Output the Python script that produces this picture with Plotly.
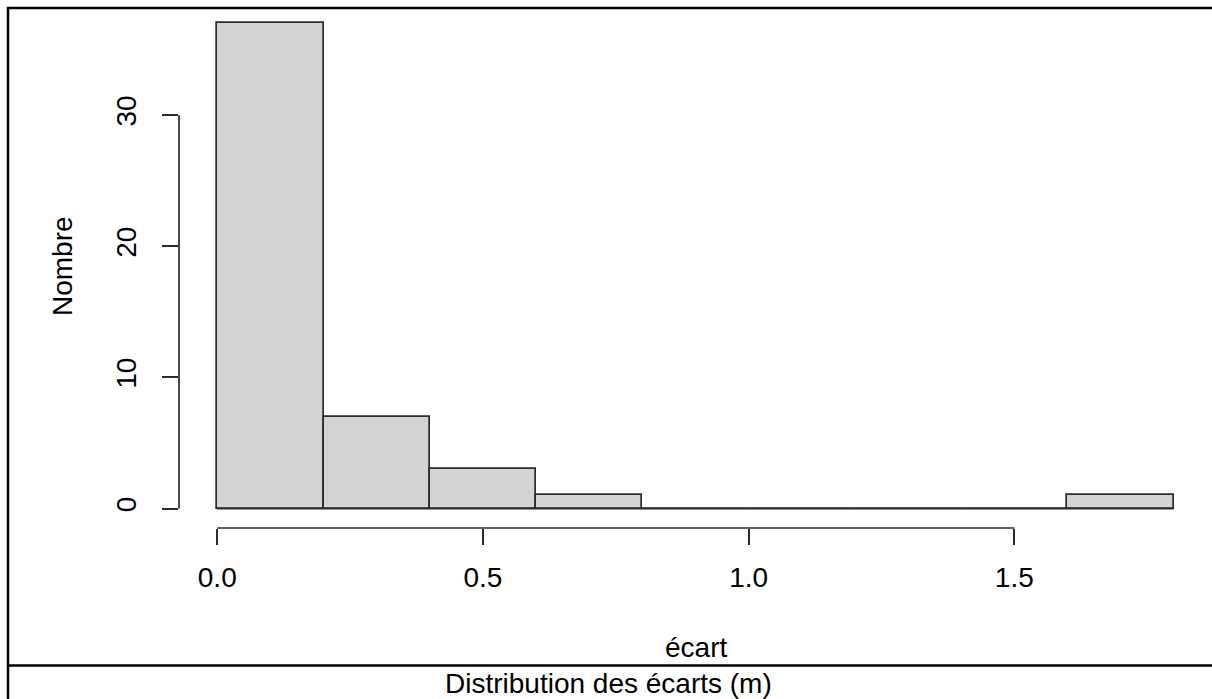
import plotly.graph_objects as go

# ---- data ----
bin_edges = [0.0, 0.2, 0.4, 0.6, 0.8, 1.0, 1.2, 1.4, 1.6, 1.8]
counts = [37, 7, 3, 1, 0, 0, 0, 0, 1]
x_tick_vals = [0.0, 0.5, 1.0, 1.5]
x_tick_text = ["0.0", "0.5", "1.0", "1.5"]
y_tick_vals = [0, 10, 20, 30]
y_tick_text = ["0", "10", "20", "30"]
x_title = "écart"
y_title = "Nombre"
caption = "Distribution des écarts (m)"

W, H = 1212, 699
L, R, T, B = 179, 0, 4, 171
PW, PH = W - L - R, H - T - B
FONT = "Liberation Sans, Arial, sans-serif"
FS = 28
LINE_C = "#2b2b2b"
LINE_W = 1.7


def px_x(px):
    return (px - L) / PW


def px_y(py):
    return (H - B - py) / PH


centers = [(bin_edges[i] + bin_edges[i + 1]) / 2 for i in range(len(counts))]
widths = [bin_edges[i + 1] - bin_edges[i] for i in range(len(counts))]

xmin, xmax = bin_edges[0], bin_edges[-1]
ymax = max(counts)
xr = [xmin - 0.04 * (xmax - xmin), xmax + 0.04 * (xmax - xmin)]
yr = [-0.04 * ymax, ymax * 1.04]

fig = go.Figure()
# baseline for empty bins (R draws zero-height rects as lines)
fig.add_trace(go.Scatter(
    x=[bin_edges[0], bin_edges[-1]], y=[0, 0], mode="lines",
    line=dict(color=LINE_C, width=LINE_W), hoverinfo="skip", showlegend=False))
fig.add_trace(go.Bar(
    x=centers, y=counts, width=widths,
    marker=dict(color="#D3D3D3", line=dict(color=LINE_C, width=LINE_W)),
    showlegend=False))

fig.update_layout(
    width=W, height=H,
    margin=dict(l=L, r=R, t=T, b=B, pad=0),
    paper_bgcolor="white", plot_bgcolor="white",
    font=dict(family=FONT, size=FS, color="black"),
    bargap=0,
    xaxis=dict(range=xr, showgrid=False, zeroline=False, showline=False,
               tickmode="array", tickvals=x_tick_vals, ticktext=x_tick_text,
               ticks="outside", ticklen=16, tickwidth=LINE_W, tickcolor=LINE_C,
               ticklabelstandoff=8,
               tickfont=dict(family=FONT, size=FS, color="black")),
    yaxis=dict(range=yr, showgrid=False, zeroline=False, showline=False,
               tickmode="array", tickvals=y_tick_vals, ticktext=y_tick_text,
               ticks="outside", ticklen=16, tickwidth=LINE_W, tickcolor=LINE_C,
               tickangle=-90, ticklabelstandoff=15,
               tickfont=dict(family=FONT, size=FS, color="black")),
)

shapes = [
    # R-style axis lines spanning first to last tick
    dict(type="line", xref="x", yref="paper", x0=x_tick_vals[0], x1=x_tick_vals[-1],
         y0=0, y1=0, line=dict(color=LINE_C, width=LINE_W)),
    dict(type="line", xref="paper", yref="y", x0=0, x1=0,
         y0=y_tick_vals[0], y1=y_tick_vals[-1], line=dict(color=LINE_C, width=LINE_W)),
    # table frame
    dict(type="line", xref="paper", yref="paper", x0=px_x(7), x1=px_x(1215),
         y0=px_y(8), y1=px_y(8), line=dict(color="black", width=2.5)),
    dict(type="line", xref="paper", yref="paper", x0=px_x(8), x1=px_x(8),
         y0=px_y(7), y1=px_y(705), line=dict(color="black", width=2.5)),
    dict(type="line", xref="paper", yref="paper", x0=px_x(8), x1=px_x(1215),
         y0=px_y(665.5), y1=px_y(665.5), line=dict(color="black", width=2.5)),
]
fig.update_layout(shapes=shapes)

fig.add_annotation(text=x_title, xref="paper", yref="paper", x=0.5, y=px_y(647),
                   xanchor="center", yanchor="middle", showarrow=False,
                   font=dict(family=FONT, size=FS, color="black"))
fig.add_annotation(text=y_title, xref="paper", yref="paper", x=px_x(62), y=0.5,
                   xanchor="center", yanchor="middle", showarrow=False, textangle=-90,
                   font=dict(family=FONT, size=FS, color="black"))
fig.add_annotation(text=caption, xref="paper", yref="paper", x=px_x(608), y=px_y(683),
                   xanchor="center", yanchor="middle", showarrow=False,
                   font=dict(family=FONT, size=FS, color="black"))

fig.write_html("out.html", config={"displayModeBar": False},
               post_script="document.body.style.margin='0';document.body.style.padding='0';document.documentElement.style.overflow='hidden';")
